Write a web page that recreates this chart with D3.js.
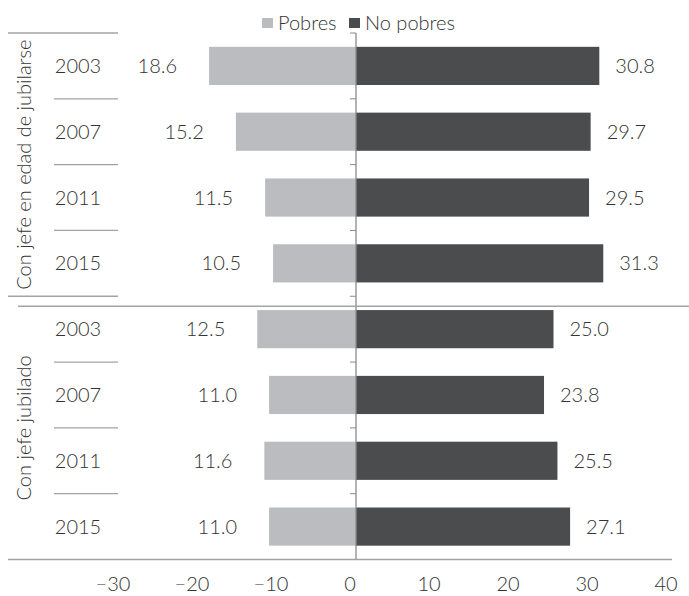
<!DOCTYPE html>
<html>
<head>
<meta charset="utf-8">
<script src="https://cdn.jsdelivr.net/npm/d3@7"></script>
<style>
  html, body { margin: 0; padding: 0; background: #fff; }
  text { font-family: "Lato", "Open Sans", sans-serif; font-weight: 300; fill: #333333; }
</style>
</head>
<body>
<svg id="chart" width="689" height="596"></svg>
<script>
// ---- data ----
const groups = ["Con jefe en edad de jubilarse", "Con jefe jubilado"];
const years = ["2003", "2007", "2011", "2015"];
const pobres = [18.6, 15.2, 11.5, 10.5, 12.5, 11.0, 11.6, 11.0];
const noPobres = [30.8, 29.7, 29.5, 31.3, 25.0, 23.8, 25.5, 27.1];
const seriesNames = ["Pobres", "No pobres"];
const xTicks = [-30, -20, -10, 0, 10, 20, 30, 40];

// ---- styles ----
const colPobres = "#bbbcbf";
const colNoPobres = "#4b4c4e";
const lineCol = "#a3a3a3";
const fontSize = 20;

const rows = [];
groups.forEach((g, gi) => years.forEach((yr, yi) => {
  const i = gi * years.length + yi;
  rows.push({ id: i, group: g, year: yr, pobres: pobres[i], noPobres: noPobres[i] });
}));

const svg = d3.select("#chart");

const x = d3.scaleLinear().domain([-30, 40]).range([119, 672]);
const y = d3.scaleBand().domain(rows.map(d => d.id)).range([33, 559.5])
  .paddingInner(0.42).paddingOuter(0.21);
const step = y.step();
const y0 = y.range()[0];
const y1 = y.range()[1];

// bars
svg.append("g").selectAll("rect").data(rows).join("rect")
  .attr("x", d => x(-d.pobres)).attr("y", d => y(d.id))
  .attr("width", d => x(0) - x(-d.pobres)).attr("height", y.bandwidth())
  .attr("fill", colPobres);
svg.append("g").selectAll("rect").data(rows).join("rect")
  .attr("x", x(0)).attr("y", d => y(d.id))
  .attr("width", d => x(d.noPobres) - x(0)).attr("height", y.bandwidth())
  .attr("fill", colNoPobres);

// value labels
svg.append("g").selectAll("text").data(rows).join("text")
  .attr("x", d => x(-d.pobres) - 32).attr("y", d => y(d.id) + y.bandwidth() / 2)
  .attr("dy", "0.35em").attr("text-anchor", "end").attr("font-size", fontSize)
  .text(d => d3.format(".1f")(d.pobres));
svg.append("g").selectAll("text").data(rows).join("text")
  .attr("x", d => x(d.noPobres) + 16).attr("y", d => y(d.id) + y.bandwidth() / 2)
  .attr("dy", "0.35em").attr("text-anchor", "start").attr("font-size", fontSize)
  .text(d => d3.format(".1f")(d.noPobres));

// zero axis (vertical) with ticks to the left
const boundaries = d3.range(rows.length + 1).map(i => y0 + i * step);
svg.append("line").attr("x1", x(0)).attr("x2", x(0)).attr("y1", y0).attr("y2", y1)
  .attr("stroke", "#8a8a8a").attr("stroke-width", 1.3);
svg.append("g").selectAll("line").data(boundaries).join("line")
  .attr("x1", x(0) - 6).attr("x2", x(0)).attr("y1", d => d).attr("y2", d => d)
  .attr("stroke", "#8a8a8a").attr("stroke-width", 1);

// bottom axis line + tick labels
svg.append("line").attr("x1", 8).attr("x2", x(40)).attr("y1", y1).attr("y2", y1)
  .attr("stroke", lineCol).attr("stroke-width", 1.3);
svg.append("g").selectAll("text").data(xTicks).join("text")
  .attr("x", d => x(d) - 6).attr("y", 584).attr("dy", "0.35em")
  .attr("text-anchor", "middle").attr("font-size", fontSize)
  .text(d => d3.format("")(d).replace("-", "\u2013"));

// category separators (multi-level axis)
boundaries.forEach((b, i) => {
  if (i === boundaries.length - 1) return;
  const outer = i % years.length === 0;
  svg.append("line").attr("x1", outer ? 8 : 54).attr("x2", 118)
    .attr("y1", b).attr("y2", b).attr("stroke", lineCol).attr("stroke-width", 1.3);
});
// group separator line
const midB = boundaries[years.length] + 10;
svg.append("line").attr("x1", 18).attr("x2", 689).attr("y1", midB).attr("y2", midB)
  .attr("stroke", lineCol).attr("stroke-width", 1.3);

// year labels
svg.append("g").selectAll("text").data(rows).join("text")
  .attr("x", 78).attr("y", d => y(d.id) + y.bandwidth() / 2).attr("dy", "0.35em")
  .attr("text-anchor", "middle").attr("font-size", fontSize)
  .text(d => d.year);

// group labels (rotated)
groups.forEach((g, gi) => {
  const cy = y0 + (gi * years.length + years.length / 2) * step;
  svg.append("text")
    .attr("transform", `translate(24,${cy}) rotate(-90)`)
    .attr("dy", "0.35em").attr("text-anchor", "middle").attr("font-size", fontSize)
    .text(g);
});

// legend
const legend = svg.append("g");
const legItems = [
  { name: seriesNames[0], color: colPobres, x: 262 },
  { name: seriesNames[1], color: colNoPobres, x: 349 }
];
legItems.forEach(it => {
  legend.append("rect").attr("x", it.x).attr("y", 18).attr("width", 11).attr("height", 10)
    .attr("fill", it.color);
  legend.append("text").attr("x", it.x + 16).attr("y", 23).attr("dy", "0.35em")
    .attr("font-size", fontSize).text(it.name);
});
</script>
</body>
</html>
